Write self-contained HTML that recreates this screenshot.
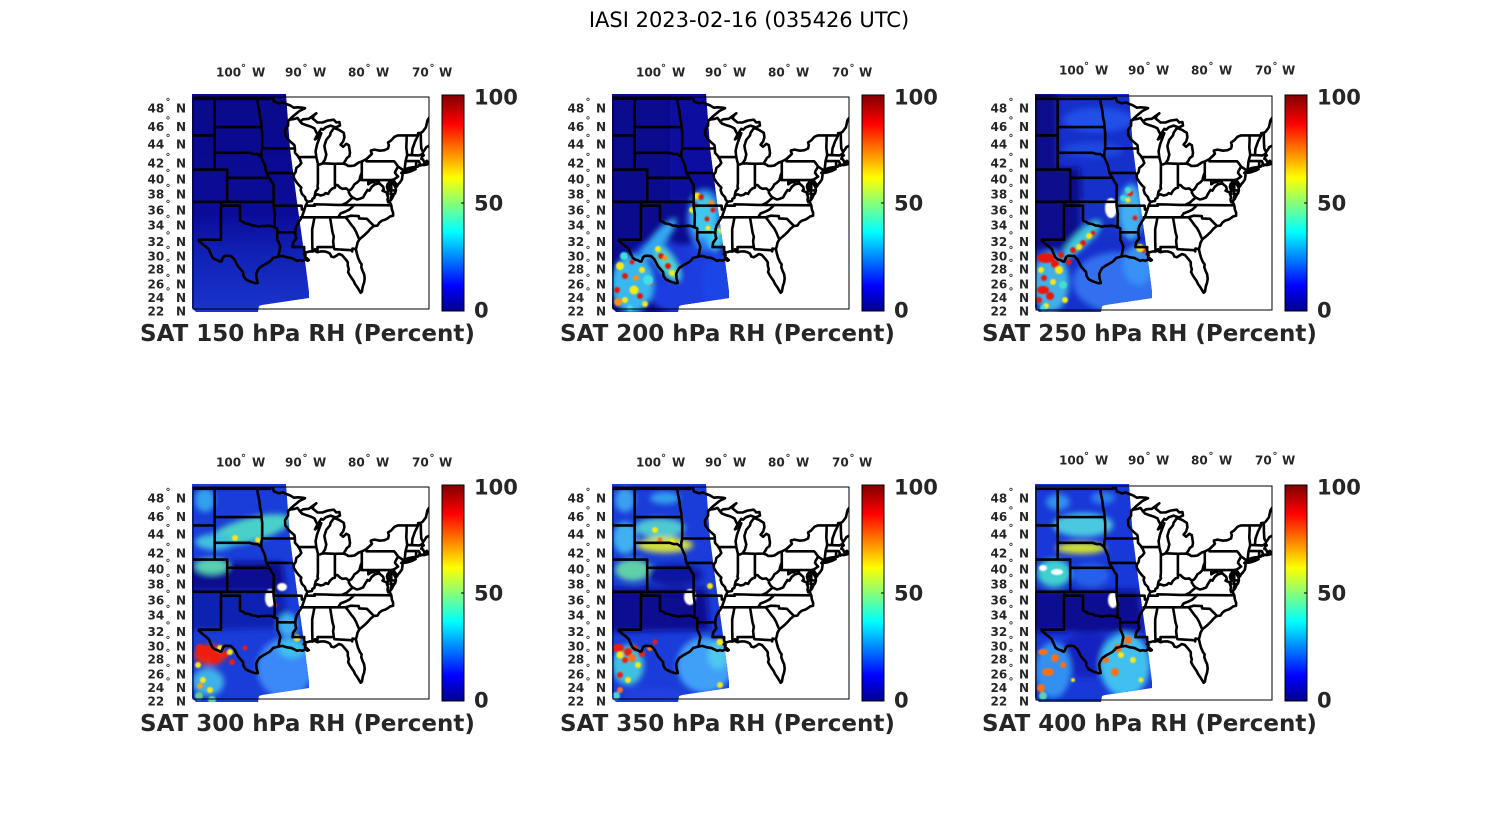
<!DOCTYPE html>
<html><head><meta charset="utf-8"><style>
html,body{margin:0;padding:0;background:#fff;}
svg{display:block;}
text{font-family:"DejaVu Sans","Liberation Sans",sans-serif;}
.t{font-weight:bold;font-size:12px;fill:#262626;}
.cb{font-weight:bold;font-size:21px;fill:#262626;}
.ti{font-weight:bold;font-size:23px;fill:#262626;}
</style></head><body>
<svg width="1500" height="825" viewBox="0 0 1500 825" xmlns="http://www.w3.org/2000/svg">
<defs>
<linearGradient id="jet" x1="0" y1="1" x2="0" y2="0">
<stop offset="0" stop-color="#00008f"/><stop offset="0.117" stop-color="#0000ff"/><stop offset="0.367" stop-color="#00ffff"/><stop offset="0.617" stop-color="#ffff00"/><stop offset="0.867" stop-color="#ff0000"/><stop offset="1" stop-color="#800000"/>
</linearGradient>
<linearGradient id="g1" gradientUnits="userSpaceOnUse" x1="0" y1="94" x2="0" y2="312">
<stop offset="0" stop-color="#0a0a8a"/><stop offset="0.55" stop-color="#0b0b98"/><stop offset="0.72" stop-color="#1020b4"/><stop offset="1" stop-color="#1a34cc"/>
</linearGradient>
<clipPath id="sw"><path d="M192,94 L286,94 L290,148 L297,202 L303,245 L309,292 L309,298 L262,305 L259,306 L258,312 L196,312 L192,308 Z"/></clipPath>
<clipPath id="bx"><rect x="193" y="97" width="236" height="212"/></clipPath>
<filter id="bl" x="-30%" y="-30%" width="160%" height="160%"><feGaussianBlur stdDeviation="3"/></filter>
<filter id="bs" x="-30%" y="-30%" width="160%" height="160%"><feGaussianBlur stdDeviation="0.8"/></filter>
<path id="mp" d="" fill="none" stroke="#000" stroke-width="2.6" stroke-linejoin="round" stroke-linecap="round"/>
</defs>

<text x="749" y="27" text-anchor="middle" font-size="21" fill="#000">IASI 2023-02-16 (035426 UTC)</text>

<!-- PANEL 1 -->
<g transform="translate(0,0)">
<g clip-path="url(#sw)"><rect x="188" y="90" width="125" height="225" fill="url(#g1)"/></g>
<g clip-path="url(#bx)"><use href="#mp"/></g>
<rect x="193" y="97" width="236" height="212" fill="none" stroke="#000" stroke-width="1"/>
<rect x="442" y="95" width="22" height="216" fill="url(#jet)" stroke="#000" stroke-width="1"/>
<line x1="461" y1="203" x2="464" y2="203" stroke="#000"/>
<text class="cb" x="474" y="104.5">100</text><text class="cb" x="474" y="210.5">50</text><text class="cb" x="474" y="317.5">0</text>
<text class="t" x="216" y="76.7">100<tspan x="241" dy="-5.5" font-size="10">°</tspan><tspan x="252" dy="5.5">W</tspan></text>
<text class="t" x="285" y="76.7">90<tspan x="302.5" dy="-5.5" font-size="10">°</tspan><tspan x="313" dy="5.5">W</tspan></text>
<text class="t" x="348" y="76.7">80<tspan x="365.5" dy="-5.5" font-size="10">°</tspan><tspan x="376" dy="5.5">W</tspan></text>
<text class="t" x="412" y="76.7">70<tspan x="429.5" dy="-5.5" font-size="10">°</tspan><tspan x="439" dy="5.5">W</tspan></text>
<text class="t" x="147.5" y="112.7">48<tspan x="165.5" dy="-7.5" font-size="10">°</tspan><tspan x="176" dy="7.5">N</tspan></text>
<text class="t" x="147.5" y="131.1">46<tspan x="165.5" dy="-7.5" font-size="10">°</tspan><tspan x="176" dy="7.5">N</tspan></text>
<text class="t" x="147.5" y="148.7">44<tspan x="165.5" dy="-7.5" font-size="10">°</tspan><tspan x="176" dy="7.5">N</tspan></text>
<text class="t" x="147.5" y="167.7">42<tspan x="165.5" dy="-7.5" font-size="10">°</tspan><tspan x="176" dy="7.5">N</tspan></text>
<text class="t" x="147.5" y="183.4">40<tspan x="165.5" dy="-7.5" font-size="10">°</tspan><tspan x="176" dy="7.5">N</tspan></text>
<text class="t" x="147.5" y="198.7">38<tspan x="165.5" dy="-7.5" font-size="10">°</tspan><tspan x="176" dy="7.5">N</tspan></text>
<text class="t" x="147.5" y="214.7">36<tspan x="165.5" dy="-7.5" font-size="10">°</tspan><tspan x="176" dy="7.5">N</tspan></text>
<text class="t" x="147.5" y="229.4">34<tspan x="165.5" dy="-7.5" font-size="10">°</tspan><tspan x="176" dy="7.5">N</tspan></text>
<text class="t" x="147.5" y="246.1">32<tspan x="165.5" dy="-7.5" font-size="10">°</tspan><tspan x="176" dy="7.5">N</tspan></text>
<text class="t" x="147.5" y="260.4">30<tspan x="165.5" dy="-7.5" font-size="10">°</tspan><tspan x="176" dy="7.5">N</tspan></text>
<text class="t" x="147.5" y="273.7">28<tspan x="165.5" dy="-7.5" font-size="10">°</tspan><tspan x="176" dy="7.5">N</tspan></text>
<text class="t" x="147.5" y="288.7">26<tspan x="165.5" dy="-7.5" font-size="10">°</tspan><tspan x="176" dy="7.5">N</tspan></text>
<text class="t" x="147.5" y="302.1">24<tspan x="165.5" dy="-7.5" font-size="10">°</tspan><tspan x="176" dy="7.5">N</tspan></text>
<text class="t" x="147.5" y="315.4">22<tspan x="176" dy="0">N</tspan></text>
<text class="ti" x="140" y="341">SAT 150 hPa RH (Percent)</text>
</g>

<!-- PANEL 2 -->
<g transform="translate(420,0)">
<g clip-path="url(#sw)">
<rect x="188" y="90" width="125" height="225" fill="#0b0b8e"/>
<g filter="url(#bl)">
<rect x="250" y="95" width="60" height="105" fill="#0c10a0"/>
<ellipse cx="270" cy="280" rx="48" ry="36" fill="#1a3ce0"/>
<ellipse cx="300" cy="282" rx="18" ry="30" fill="#1e44e8"/>
<ellipse cx="240" cy="262" rx="30" ry="22" fill="#1a38d8"/>
<ellipse cx="285" cy="220" rx="18" ry="30" fill="#2a78f0"/>
<ellipse cx="284" cy="216" rx="12" ry="22" fill="#40c8ec"/>
<ellipse cx="296" cy="238" rx="9" ry="12" fill="#40c8f0"/>
<ellipse cx="212" cy="284" rx="21" ry="29" fill="#38b8f0"/>
<ellipse cx="246" cy="262" rx="8" ry="22" transform="rotate(-35 246 262)" fill="#50d8d0"/>
<ellipse cx="238" cy="240" rx="7" ry="28" transform="rotate(40 238 240)" fill="#30a8f0"/>
</g>
<g filter="url(#bs)">
<g fill="#f8e818"><circle cx="277" cy="196" r="3.5"/><circle cx="272" cy="210" r="3"/><circle cx="299" cy="231" r="3"/><circle cx="200" cy="266" r="4"/><circle cx="214" cy="290" r="4.5"/><circle cx="225" cy="304" r="3"/><circle cx="238" cy="249" r="3"/><circle cx="252" cy="273" r="3"/><circle cx="205" cy="300" r="3"/><circle cx="222" cy="270" r="3"/><circle cx="288" cy="228" r="2.5"/></g>
<g fill="#e01808"><circle cx="281" cy="197" r="3"/><circle cx="287" cy="219" r="2.5"/><circle cx="275" cy="205" r="2.5"/><circle cx="205" cy="276" r="3"/><circle cx="220" cy="296" r="3"/><circle cx="212" cy="262" r="2.5"/><circle cx="241" cy="256" r="3"/><circle cx="248" cy="266" r="3"/><circle cx="197" cy="290" r="3"/><circle cx="230" cy="283" r="2.5"/><circle cx="293" cy="210" r="2.5"/></g>
<g fill="#f89018"><circle cx="291" cy="203" r="3"/><circle cx="198" cy="302" r="4"/><circle cx="245" cy="258" r="2.5"/><circle cx="216" cy="278" r="3"/></g>
<g fill="#40e0e0"><circle cx="228" cy="280" r="5"/><circle cx="296" cy="233" r="4"/><circle cx="204" cy="256" r="4"/><circle cx="210" cy="308" r="3"/></g>
</g>
</g>
<g clip-path="url(#bx)"><use href="#mp"/></g>
<rect x="193" y="97" width="236" height="212" fill="none" stroke="#000" stroke-width="1"/>
<rect x="442" y="95" width="22" height="216" fill="url(#jet)" stroke="#000" stroke-width="1"/>
<line x1="461" y1="203" x2="464" y2="203" stroke="#000"/>
<text class="cb" x="474" y="104.5">100</text><text class="cb" x="474" y="210.5">50</text><text class="cb" x="474" y="317.5">0</text>
<text class="t" x="216" y="76.7">100<tspan x="241" dy="-5.5" font-size="10">°</tspan><tspan x="252" dy="5.5">W</tspan></text>
<text class="t" x="285" y="76.7">90<tspan x="302.5" dy="-5.5" font-size="10">°</tspan><tspan x="313" dy="5.5">W</tspan></text>
<text class="t" x="348" y="76.7">80<tspan x="365.5" dy="-5.5" font-size="10">°</tspan><tspan x="376" dy="5.5">W</tspan></text>
<text class="t" x="412" y="76.7">70<tspan x="429.5" dy="-5.5" font-size="10">°</tspan><tspan x="439" dy="5.5">W</tspan></text>
<text class="t" x="147.5" y="112.7">48<tspan x="165.5" dy="-7.5" font-size="10">°</tspan><tspan x="176" dy="7.5">N</tspan></text>
<text class="t" x="147.5" y="131.1">46<tspan x="165.5" dy="-7.5" font-size="10">°</tspan><tspan x="176" dy="7.5">N</tspan></text>
<text class="t" x="147.5" y="148.7">44<tspan x="165.5" dy="-7.5" font-size="10">°</tspan><tspan x="176" dy="7.5">N</tspan></text>
<text class="t" x="147.5" y="167.7">42<tspan x="165.5" dy="-7.5" font-size="10">°</tspan><tspan x="176" dy="7.5">N</tspan></text>
<text class="t" x="147.5" y="183.4">40<tspan x="165.5" dy="-7.5" font-size="10">°</tspan><tspan x="176" dy="7.5">N</tspan></text>
<text class="t" x="147.5" y="198.7">38<tspan x="165.5" dy="-7.5" font-size="10">°</tspan><tspan x="176" dy="7.5">N</tspan></text>
<text class="t" x="147.5" y="214.7">36<tspan x="165.5" dy="-7.5" font-size="10">°</tspan><tspan x="176" dy="7.5">N</tspan></text>
<text class="t" x="147.5" y="229.4">34<tspan x="165.5" dy="-7.5" font-size="10">°</tspan><tspan x="176" dy="7.5">N</tspan></text>
<text class="t" x="147.5" y="246.1">32<tspan x="165.5" dy="-7.5" font-size="10">°</tspan><tspan x="176" dy="7.5">N</tspan></text>
<text class="t" x="147.5" y="260.4">30<tspan x="165.5" dy="-7.5" font-size="10">°</tspan><tspan x="176" dy="7.5">N</tspan></text>
<text class="t" x="147.5" y="273.7">28<tspan x="165.5" dy="-7.5" font-size="10">°</tspan><tspan x="176" dy="7.5">N</tspan></text>
<text class="t" x="147.5" y="288.7">26<tspan x="165.5" dy="-7.5" font-size="10">°</tspan><tspan x="176" dy="7.5">N</tspan></text>
<text class="t" x="147.5" y="302.1">24<tspan x="165.5" dy="-7.5" font-size="10">°</tspan><tspan x="176" dy="7.5">N</tspan></text>
<text class="t" x="147.5" y="315.4">22<tspan x="176" dy="0">N</tspan></text>
<text class="ti" x="140" y="341">SAT 200 hPa RH (Percent)</text>
</g>

<!-- PANEL 3 -->
<g transform="translate(843,0)">
<g clip-path="url(#sw)">
<rect x="188" y="90" width="125" height="225" fill="#1630cc"/>
<g filter="url(#bl)">
<polygon points="186,88 214,88 214,168 237,168 240,238 230,248 186,250" fill="#0a0a8e"/>
<ellipse cx="255" cy="120" rx="35" ry="12" fill="#2050e8"/>
<ellipse cx="250" cy="150" rx="30" ry="8" fill="#1c48e0"/>
<rect x="237" y="200" width="38" height="40" fill="#1430c8"/>
<ellipse cx="275" cy="282" rx="45" ry="30" fill="#3070f0"/>
<ellipse cx="295" cy="265" rx="15" ry="20" fill="#3890f8"/>
<ellipse cx="288" cy="212" rx="12" ry="28" fill="#40b0f0"/>
<ellipse cx="238" cy="240" rx="7" ry="26" transform="rotate(45 238 240)" fill="#40c8e0"/>
<ellipse cx="208" cy="282" rx="18" ry="30" fill="#40b0e8"/>
</g>
<g filter="url(#bs)">
<g fill="#e81810"><ellipse cx="203" cy="258" rx="9" ry="5"/><circle cx="212" cy="264" r="4"/><ellipse cx="200" cy="290" rx="6" ry="4"/><circle cx="207" cy="296" r="4"/><circle cx="196" cy="300" r="3"/><circle cx="230" cy="250" r="3"/><circle cx="240" cy="243" r="3"/><circle cx="250" cy="233" r="2.5"/><circle cx="287" cy="193" r="3"/><circle cx="292" cy="218" r="2.5"/><circle cx="300" cy="250" r="3"/><circle cx="226" cy="262" r="3"/><circle cx="218" cy="255" r="3"/><circle cx="201" cy="278" r="3"/></g>
<g fill="#f8e818"><circle cx="216" cy="270" r="4"/><circle cx="198" cy="270" r="3"/><circle cx="210" cy="282" r="3"/><circle cx="236" cy="247" r="3"/><circle cx="246" cy="236" r="3"/><circle cx="297" cy="248" r="4"/><circle cx="285" cy="200" r="2.5"/><circle cx="222" cy="300" r="3"/><circle cx="203" cy="306" r="3"/></g>
<g fill="#40e0d0"><circle cx="285" cy="190" r="3"/><circle cx="200" cy="308" r="3"/><circle cx="220" cy="285" r="4"/><circle cx="280" cy="198" r="3"/></g>
<ellipse cx="268" cy="208" rx="6" ry="10" fill="#fff"/>
</g>
</g>
<g clip-path="url(#bx)"><use href="#mp"/></g>
<rect x="193" y="96" width="236" height="214" fill="none" stroke="#000" stroke-width="1"/>
<rect x="442" y="95" width="22" height="216" fill="url(#jet)" stroke="#000" stroke-width="1"/>
<line x1="461" y1="203" x2="464" y2="203" stroke="#000"/>
<text class="cb" x="474" y="104.5">100</text><text class="cb" x="474" y="210.5">50</text><text class="cb" x="474" y="317.5">0</text>
<text class="t" x="216" y="74.7">100<tspan x="241" dy="-5.5" font-size="10">°</tspan><tspan x="252" dy="5.5">W</tspan></text>
<text class="t" x="285" y="74.7">90<tspan x="302.5" dy="-5.5" font-size="10">°</tspan><tspan x="313" dy="5.5">W</tspan></text>
<text class="t" x="348" y="74.7">80<tspan x="365.5" dy="-5.5" font-size="10">°</tspan><tspan x="376" dy="5.5">W</tspan></text>
<text class="t" x="412" y="74.7">70<tspan x="429.5" dy="-5.5" font-size="10">°</tspan><tspan x="439" dy="5.5">W</tspan></text>
<text class="t" x="147.5" y="112.7">48<tspan x="165.5" dy="-7.5" font-size="10">°</tspan><tspan x="176" dy="7.5">N</tspan></text>
<text class="t" x="147.5" y="131.1">46<tspan x="165.5" dy="-7.5" font-size="10">°</tspan><tspan x="176" dy="7.5">N</tspan></text>
<text class="t" x="147.5" y="148.7">44<tspan x="165.5" dy="-7.5" font-size="10">°</tspan><tspan x="176" dy="7.5">N</tspan></text>
<text class="t" x="147.5" y="167.7">42<tspan x="165.5" dy="-7.5" font-size="10">°</tspan><tspan x="176" dy="7.5">N</tspan></text>
<text class="t" x="147.5" y="183.4">40<tspan x="165.5" dy="-7.5" font-size="10">°</tspan><tspan x="176" dy="7.5">N</tspan></text>
<text class="t" x="147.5" y="198.7">38<tspan x="165.5" dy="-7.5" font-size="10">°</tspan><tspan x="176" dy="7.5">N</tspan></text>
<text class="t" x="147.5" y="214.7">36<tspan x="165.5" dy="-7.5" font-size="10">°</tspan><tspan x="176" dy="7.5">N</tspan></text>
<text class="t" x="147.5" y="229.4">34<tspan x="165.5" dy="-7.5" font-size="10">°</tspan><tspan x="176" dy="7.5">N</tspan></text>
<text class="t" x="147.5" y="246.1">32<tspan x="165.5" dy="-7.5" font-size="10">°</tspan><tspan x="176" dy="7.5">N</tspan></text>
<text class="t" x="147.5" y="260.4">30<tspan x="165.5" dy="-7.5" font-size="10">°</tspan><tspan x="176" dy="7.5">N</tspan></text>
<text class="t" x="147.5" y="273.7">28<tspan x="165.5" dy="-7.5" font-size="10">°</tspan><tspan x="176" dy="7.5">N</tspan></text>
<text class="t" x="147.5" y="288.7">26<tspan x="165.5" dy="-7.5" font-size="10">°</tspan><tspan x="176" dy="7.5">N</tspan></text>
<text class="t" x="147.5" y="302.1">24<tspan x="165.5" dy="-7.5" font-size="10">°</tspan><tspan x="176" dy="7.5">N</tspan></text>
<text class="t" x="147.5" y="315.4">22<tspan x="176" dy="0">N</tspan></text>
<text class="ti" x="139" y="341">SAT 250 hPa RH (Percent)</text>
</g>

<!-- PANEL 4 -->
<g transform="translate(0,390)">
<g clip-path="url(#sw)">
<rect x="188" y="90" width="125" height="225" fill="#1a3cd8"/>
<g filter="url(#bl)">
<polygon points="186,172 282,172 286,200 186,200" fill="#0c0c92"/>
<polygon points="186,200 284,200 288,238 186,240" fill="#1020b0"/>
<ellipse cx="205" cy="110" rx="10" ry="12" fill="#30a0f0"/>
<ellipse cx="250" cy="140" rx="42" ry="12" transform="rotate(-15 250 140)" fill="#48d0c8"/>
<ellipse cx="215" cy="152" rx="20" ry="8" fill="#40c0e0"/>
<ellipse cx="212" cy="176" rx="17" ry="8" fill="#58d0b0"/>
<ellipse cx="288" cy="235" rx="10" ry="12" fill="#40b0f0"/>
<ellipse cx="285" cy="278" rx="28" ry="30" fill="#3a88f8"/>
<ellipse cx="292" cy="258" rx="14" ry="10" fill="#40c0f0"/>
<ellipse cx="210" cy="265" rx="16" ry="10" fill="#f02a10"/>
<ellipse cx="208" cy="292" rx="16" ry="14" fill="#40b0e8"/>
</g>
<g filter="url(#bs)">
<g fill="#f01c10"><ellipse cx="205" cy="262" rx="8" ry="6"/><circle cx="215" cy="268" r="5"/><circle cx="200" cy="258" r="4"/><circle cx="225" cy="265" r="3"/><circle cx="232" cy="272" r="3"/><circle cx="275" cy="215" r="2"/><circle cx="245" cy="258" r="2.5"/></g>
<g fill="#f8e818"><circle cx="220" cy="258" r="3"/><circle cx="198" cy="275" r="3"/><circle cx="230" cy="262" r="3"/><circle cx="203" cy="290" r="3"/><circle cx="210" cy="300" r="3"/><circle cx="297" cy="248" r="3.5"/><circle cx="235" cy="148" r="3"/><circle cx="258" cy="150" r="3"/><circle cx="290" cy="125" r="3"/></g>
<circle cx="199" cy="306" r="4" fill="#60d080"/><circle cx="212" cy="310" r="4" fill="#60d0a0"/><circle cx="200" cy="296" r="3" fill="#f0a020"/>
<ellipse cx="270" cy="208" rx="5" ry="9" fill="#fff"/><ellipse cx="282" cy="197" rx="5" ry="4" fill="#fff"/>
</g>
</g>
<g clip-path="url(#bx)"><use href="#mp"/></g>
<rect x="193" y="97" width="236" height="212" fill="none" stroke="#000" stroke-width="1"/>
<rect x="442" y="95" width="22" height="216" fill="url(#jet)" stroke="#000" stroke-width="1"/>
<line x1="461" y1="203" x2="464" y2="203" stroke="#000"/>
<text class="cb" x="474" y="104.5">100</text><text class="cb" x="474" y="210.5">50</text><text class="cb" x="474" y="317.5">0</text>
<text class="t" x="216" y="76.7">100<tspan x="241" dy="-5.5" font-size="10">°</tspan><tspan x="252" dy="5.5">W</tspan></text>
<text class="t" x="285" y="76.7">90<tspan x="302.5" dy="-5.5" font-size="10">°</tspan><tspan x="313" dy="5.5">W</tspan></text>
<text class="t" x="348" y="76.7">80<tspan x="365.5" dy="-5.5" font-size="10">°</tspan><tspan x="376" dy="5.5">W</tspan></text>
<text class="t" x="412" y="76.7">70<tspan x="429.5" dy="-5.5" font-size="10">°</tspan><tspan x="439" dy="5.5">W</tspan></text>
<text class="t" x="147.5" y="112.7">48<tspan x="165.5" dy="-7.5" font-size="10">°</tspan><tspan x="176" dy="7.5">N</tspan></text>
<text class="t" x="147.5" y="131.1">46<tspan x="165.5" dy="-7.5" font-size="10">°</tspan><tspan x="176" dy="7.5">N</tspan></text>
<text class="t" x="147.5" y="148.7">44<tspan x="165.5" dy="-7.5" font-size="10">°</tspan><tspan x="176" dy="7.5">N</tspan></text>
<text class="t" x="147.5" y="167.7">42<tspan x="165.5" dy="-7.5" font-size="10">°</tspan><tspan x="176" dy="7.5">N</tspan></text>
<text class="t" x="147.5" y="183.4">40<tspan x="165.5" dy="-7.5" font-size="10">°</tspan><tspan x="176" dy="7.5">N</tspan></text>
<text class="t" x="147.5" y="198.7">38<tspan x="165.5" dy="-7.5" font-size="10">°</tspan><tspan x="176" dy="7.5">N</tspan></text>
<text class="t" x="147.5" y="214.7">36<tspan x="165.5" dy="-7.5" font-size="10">°</tspan><tspan x="176" dy="7.5">N</tspan></text>
<text class="t" x="147.5" y="229.4">34<tspan x="165.5" dy="-7.5" font-size="10">°</tspan><tspan x="176" dy="7.5">N</tspan></text>
<text class="t" x="147.5" y="246.1">32<tspan x="165.5" dy="-7.5" font-size="10">°</tspan><tspan x="176" dy="7.5">N</tspan></text>
<text class="t" x="147.5" y="260.4">30<tspan x="165.5" dy="-7.5" font-size="10">°</tspan><tspan x="176" dy="7.5">N</tspan></text>
<text class="t" x="147.5" y="273.7">28<tspan x="165.5" dy="-7.5" font-size="10">°</tspan><tspan x="176" dy="7.5">N</tspan></text>
<text class="t" x="147.5" y="288.7">26<tspan x="165.5" dy="-7.5" font-size="10">°</tspan><tspan x="176" dy="7.5">N</tspan></text>
<text class="t" x="147.5" y="302.1">24<tspan x="165.5" dy="-7.5" font-size="10">°</tspan><tspan x="176" dy="7.5">N</tspan></text>
<text class="t" x="147.5" y="315.4">22<tspan x="176" dy="0">N</tspan></text>
<text class="ti" x="140" y="341">SAT 300 hPa RH (Percent)</text>
</g>

<!-- PANEL 5 -->
<g transform="translate(420,390)">
<g clip-path="url(#sw)">
<rect x="188" y="90" width="125" height="225" fill="#1a3cd8"/>
<g filter="url(#bl)">
<ellipse cx="205" cy="110" rx="10" ry="12" fill="#3aa0f0"/>
<ellipse cx="245" cy="108" rx="15" ry="6" fill="#30a0f0"/>
<ellipse cx="240" cy="138" rx="25" ry="10" fill="#50c8d0"/>
<ellipse cx="245" cy="155" rx="28" ry="8" fill="#d0e040"/>
<ellipse cx="205" cy="148" rx="12" ry="16" fill="#40b0f0"/>
<ellipse cx="213" cy="180" rx="18" ry="11" fill="#60d0a8"/>
<ellipse cx="255" cy="185" rx="28" ry="11" fill="#0c12a0"/>
<polygon points="186,198 286,198 290,240 186,242" fill="#0a0a92"/>
<ellipse cx="208" cy="275" rx="16" ry="20" fill="#40c0e0"/>
<ellipse cx="285" cy="275" rx="28" ry="28" fill="#40a0f8"/>
<ellipse cx="298" cy="265" rx="10" ry="14" fill="#50c8f0"/>
<ellipse cx="235" cy="305" rx="30" ry="8" fill="#2040e0"/>
</g>
<g filter="url(#bs)">
<g fill="#f01c10"><ellipse cx="198" cy="258" rx="6" ry="4"/><circle cx="208" cy="262" r="4"/><circle cx="215" cy="258" r="3"/><circle cx="205" cy="270" r="3"/><circle cx="222" cy="264" r="3"/><circle cx="200" cy="285" r="3"/><circle cx="235" cy="252" r="2.5"/></g>
<g fill="#f87020"><circle cx="212" cy="268" r="4"/><circle cx="200" cy="300" r="3"/><circle cx="230" cy="258" r="3"/><circle cx="240" cy="150" r="2.5"/></g>
<g fill="#f8e818"><circle cx="200" cy="265" r="3.5"/><circle cx="218" cy="275" r="3"/><circle cx="208" cy="290" r="3"/><circle cx="300" cy="252" r="3.5"/><circle cx="235" cy="140" r="3"/><circle cx="252" cy="152" r="3"/><circle cx="290" cy="196" r="3"/><circle cx="300" cy="295" r="3"/></g>
<ellipse cx="270" cy="207" rx="6" ry="8" fill="#fff"/>
<circle cx="196" cy="306" r="4" fill="#50d0e0"/>
</g>
</g>
<g clip-path="url(#bx)"><use href="#mp"/></g>
<rect x="193" y="97" width="236" height="212" fill="none" stroke="#000" stroke-width="1"/>
<rect x="442" y="95" width="22" height="216" fill="url(#jet)" stroke="#000" stroke-width="1"/>
<line x1="461" y1="203" x2="464" y2="203" stroke="#000"/>
<text class="cb" x="474" y="104.5">100</text><text class="cb" x="474" y="210.5">50</text><text class="cb" x="474" y="317.5">0</text>
<text class="t" x="216" y="76.7">100<tspan x="241" dy="-5.5" font-size="10">°</tspan><tspan x="252" dy="5.5">W</tspan></text>
<text class="t" x="285" y="76.7">90<tspan x="302.5" dy="-5.5" font-size="10">°</tspan><tspan x="313" dy="5.5">W</tspan></text>
<text class="t" x="348" y="76.7">80<tspan x="365.5" dy="-5.5" font-size="10">°</tspan><tspan x="376" dy="5.5">W</tspan></text>
<text class="t" x="412" y="76.7">70<tspan x="429.5" dy="-5.5" font-size="10">°</tspan><tspan x="439" dy="5.5">W</tspan></text>
<text class="t" x="147.5" y="112.7">48<tspan x="165.5" dy="-7.5" font-size="10">°</tspan><tspan x="176" dy="7.5">N</tspan></text>
<text class="t" x="147.5" y="131.1">46<tspan x="165.5" dy="-7.5" font-size="10">°</tspan><tspan x="176" dy="7.5">N</tspan></text>
<text class="t" x="147.5" y="148.7">44<tspan x="165.5" dy="-7.5" font-size="10">°</tspan><tspan x="176" dy="7.5">N</tspan></text>
<text class="t" x="147.5" y="167.7">42<tspan x="165.5" dy="-7.5" font-size="10">°</tspan><tspan x="176" dy="7.5">N</tspan></text>
<text class="t" x="147.5" y="183.4">40<tspan x="165.5" dy="-7.5" font-size="10">°</tspan><tspan x="176" dy="7.5">N</tspan></text>
<text class="t" x="147.5" y="198.7">38<tspan x="165.5" dy="-7.5" font-size="10">°</tspan><tspan x="176" dy="7.5">N</tspan></text>
<text class="t" x="147.5" y="214.7">36<tspan x="165.5" dy="-7.5" font-size="10">°</tspan><tspan x="176" dy="7.5">N</tspan></text>
<text class="t" x="147.5" y="229.4">34<tspan x="165.5" dy="-7.5" font-size="10">°</tspan><tspan x="176" dy="7.5">N</tspan></text>
<text class="t" x="147.5" y="246.1">32<tspan x="165.5" dy="-7.5" font-size="10">°</tspan><tspan x="176" dy="7.5">N</tspan></text>
<text class="t" x="147.5" y="260.4">30<tspan x="165.5" dy="-7.5" font-size="10">°</tspan><tspan x="176" dy="7.5">N</tspan></text>
<text class="t" x="147.5" y="273.7">28<tspan x="165.5" dy="-7.5" font-size="10">°</tspan><tspan x="176" dy="7.5">N</tspan></text>
<text class="t" x="147.5" y="288.7">26<tspan x="165.5" dy="-7.5" font-size="10">°</tspan><tspan x="176" dy="7.5">N</tspan></text>
<text class="t" x="147.5" y="302.1">24<tspan x="165.5" dy="-7.5" font-size="10">°</tspan><tspan x="176" dy="7.5">N</tspan></text>
<text class="t" x="147.5" y="315.4">22<tspan x="176" dy="0">N</tspan></text>
<text class="ti" x="140" y="341">SAT 350 hPa RH (Percent)</text>
</g>

<!-- PANEL 6 -->
<g transform="translate(843,390)">
<g clip-path="url(#sw)">
<rect x="188" y="90" width="125" height="225" fill="#1838d8"/>
<g filter="url(#bl)">
<ellipse cx="215" cy="112" rx="12" ry="8" fill="#3090f0"/>
<ellipse cx="260" cy="108" rx="12" ry="6" fill="#2c80f0"/>
<ellipse cx="240" cy="135" rx="30" ry="12" fill="#48c8e0"/>
<ellipse cx="238" cy="158" rx="25" ry="6" fill="#d0e030"/>
<ellipse cx="211" cy="183" rx="17" ry="14" fill="#40d0d0"/>
<ellipse cx="248" cy="185" rx="18" ry="12" fill="#2860e8"/>
<polygon points="186,200 296,200 300,242 186,242" fill="#0a0a92"/>
<ellipse cx="245" cy="265" rx="30" ry="22" fill="#1424c0"/>
<ellipse cx="210" cy="280" rx="18" ry="28" fill="#3090f0"/>
<ellipse cx="282" cy="275" rx="25" ry="32" fill="#40c0f0"/>
</g>
<g filter="url(#bs)">
<g fill="#f87018"><ellipse cx="200" cy="262" rx="5" ry="3"/><circle cx="212" cy="268" r="4"/><ellipse cx="205" cy="282" rx="6" ry="4"/><circle cx="198" cy="298" r="4"/><circle cx="220" cy="275" r="3"/><circle cx="275" cy="258" r="4"/><circle cx="272" cy="282" r="4"/><circle cx="285" cy="250" r="4"/><circle cx="263" cy="270" r="3"/></g>
<g fill="#f8e818"><circle cx="278" cy="265" r="3"/><circle cx="290" cy="270" r="3"/><circle cx="298" cy="290" r="2.5"/><circle cx="230" cy="290" r="2"/></g>
<ellipse cx="214" cy="182" rx="6" ry="3" fill="#fff"/><ellipse cx="270" cy="210" rx="5" ry="8" fill="#fff"/><ellipse cx="200" cy="178" rx="4" ry="3" fill="#fff"/>
<circle cx="200" cy="306" r="4" fill="#60d0b0"/>
</g>
</g>
<g clip-path="url(#bx)"><use href="#mp"/></g>
<rect x="193" y="96" width="236" height="214" fill="none" stroke="#000" stroke-width="1"/>
<rect x="442" y="95" width="22" height="216" fill="url(#jet)" stroke="#000" stroke-width="1"/>
<line x1="461" y1="203" x2="464" y2="203" stroke="#000"/>
<text class="cb" x="474" y="104.5">100</text><text class="cb" x="474" y="210.5">50</text><text class="cb" x="474" y="317.5">0</text>
<text class="t" x="216" y="74.7">100<tspan x="241" dy="-5.5" font-size="10">°</tspan><tspan x="252" dy="5.5">W</tspan></text>
<text class="t" x="285" y="74.7">90<tspan x="302.5" dy="-5.5" font-size="10">°</tspan><tspan x="313" dy="5.5">W</tspan></text>
<text class="t" x="348" y="74.7">80<tspan x="365.5" dy="-5.5" font-size="10">°</tspan><tspan x="376" dy="5.5">W</tspan></text>
<text class="t" x="412" y="74.7">70<tspan x="429.5" dy="-5.5" font-size="10">°</tspan><tspan x="439" dy="5.5">W</tspan></text>
<text class="t" x="147.5" y="112.7">48<tspan x="165.5" dy="-7.5" font-size="10">°</tspan><tspan x="176" dy="7.5">N</tspan></text>
<text class="t" x="147.5" y="131.1">46<tspan x="165.5" dy="-7.5" font-size="10">°</tspan><tspan x="176" dy="7.5">N</tspan></text>
<text class="t" x="147.5" y="148.7">44<tspan x="165.5" dy="-7.5" font-size="10">°</tspan><tspan x="176" dy="7.5">N</tspan></text>
<text class="t" x="147.5" y="167.7">42<tspan x="165.5" dy="-7.5" font-size="10">°</tspan><tspan x="176" dy="7.5">N</tspan></text>
<text class="t" x="147.5" y="183.4">40<tspan x="165.5" dy="-7.5" font-size="10">°</tspan><tspan x="176" dy="7.5">N</tspan></text>
<text class="t" x="147.5" y="198.7">38<tspan x="165.5" dy="-7.5" font-size="10">°</tspan><tspan x="176" dy="7.5">N</tspan></text>
<text class="t" x="147.5" y="214.7">36<tspan x="165.5" dy="-7.5" font-size="10">°</tspan><tspan x="176" dy="7.5">N</tspan></text>
<text class="t" x="147.5" y="229.4">34<tspan x="165.5" dy="-7.5" font-size="10">°</tspan><tspan x="176" dy="7.5">N</tspan></text>
<text class="t" x="147.5" y="246.1">32<tspan x="165.5" dy="-7.5" font-size="10">°</tspan><tspan x="176" dy="7.5">N</tspan></text>
<text class="t" x="147.5" y="260.4">30<tspan x="165.5" dy="-7.5" font-size="10">°</tspan><tspan x="176" dy="7.5">N</tspan></text>
<text class="t" x="147.5" y="273.7">28<tspan x="165.5" dy="-7.5" font-size="10">°</tspan><tspan x="176" dy="7.5">N</tspan></text>
<text class="t" x="147.5" y="288.7">26<tspan x="165.5" dy="-7.5" font-size="10">°</tspan><tspan x="176" dy="7.5">N</tspan></text>
<text class="t" x="147.5" y="302.1">24<tspan x="165.5" dy="-7.5" font-size="10">°</tspan><tspan x="176" dy="7.5">N</tspan></text>
<text class="t" x="147.5" y="315.4">22<tspan x="176" dy="0">N</tspan></text>
<text class="ti" x="139" y="341">SAT 400 hPa RH (Percent)</text>
</g>
</svg>
<script>
(function(){
var L=[
[-108,49,-95.15,49,-95.15,49.38,-94.8,49.3,-94.6,48.72,-93.8,48.52,-93.1,48.62,-92.6,48.45,-92.0,48.3,-91.4,48.05,-90.8,48.1,-90.0,48.05,-89.6,48.0,-90.5,47.7,-91.4,47.2,-92.1,46.75,-91.2,46.85,-90.8,46.95,-90.4,46.57],
[-90.4,46.57,-89.9,46.8,-89.0,46.85,-88.4,47.15,-87.8,47.45,-88.2,47.2,-88.4,46.9,-87.6,46.45,-86.8,46.45,-86.0,46.65,-85.0,46.75,-84.6,46.45,-84.1,46.5,-84.0,46.1,-84.7,45.9,-85.5,46.1,-86.3,45.9,-86.7,45.65,-87.0,45.75,-87.6,45.1,-87.8,45.35,-88.1,45.8,-88.7,46.0,-89.6,46.2,-90.1,46.34,-90.4,46.57],
[-87.6,45.1,-88.0,44.55,-87.5,44.8,-87.0,45.25,-87.5,44.3,-87.7,43.9,-87.9,43.2,-87.8,42.5,-87.6,41.9,-87.5,41.65,-87.2,41.62,-86.8,41.76],
[-86.8,41.76,-86.4,42.2,-86.2,42.8,-86.4,43.4,-86.5,43.8,-86.2,44.5,-85.6,45.0,-85.5,45.3,-85.0,45.8,-84.7,45.78,-84.1,45.6,-83.4,45.3,-83.3,44.8,-83.5,44.3,-83.9,43.95,-83.5,43.7,-83.0,44.05,-82.6,43.9,-82.4,43.0,-82.5,42.6,-82.9,42.4,-83.1,42.1,-83.45,41.73],
[-83.45,41.73,-83.0,41.6,-82.7,41.45,-82.2,41.45,-81.7,41.5,-81.0,41.85,-80.52,41.98,-79.76,42.27,-79.0,42.8,-78.9,42.9,-79.05,43.15,-79.05,43.27,-78.5,43.37,-77.6,43.25,-76.9,43.3,-76.3,43.5,-76.2,43.9,-76.3,44.2,-75.8,44.45,-75.3,44.85,-74.7,45.0,-71.5,45.0,-71.5,45.25,-71.08,45.3,-70.8,45.4,-70.25,45.9,-70.0,46.7,-69.25,47.45,-68.3,47.35,-67.8,47.07,-67.8,45.7],
[-97.15,25.95,-97.35,26.6,-97.4,27.2,-97.2,27.7,-96.9,28.1,-96.4,28.4,-95.9,28.65,-95.3,28.95,-94.9,29.3,-94.7,29.5,-94.5,29.55,-93.84,29.7,-93.2,29.78,-92.6,29.6,-92.2,29.55,-91.8,29.5,-91.3,29.3,-90.9,29.1,-90.4,29.2,-90.0,29.1,-89.6,29.3,-89.2,29.1,-89.0,29.2,-89.3,29.45,-89.6,29.6,-89.5,29.9,-89.8,30.0,-89.6,30.2,-89.3,30.3,-88.8,30.4,-88.4,30.38,-88.1,30.5,-88.0,30.7,-87.9,30.4,-87.6,30.3,-87.0,30.4,-86.5,30.4,-86.0,30.3,-85.6,30.1,-85.4,29.7,-85.0,29.6,-84.6,29.8,-84.2,30.05,-83.7,29.9,-83.4,29.6,-83.0,29.2,-82.75,28.9,-82.75,28.4,-82.6,27.9,-82.7,27.5,-82.4,27.0,-82.1,26.6,-81.8,26.2,-81.6,25.8,-81.2,25.3,-80.95,24.9,-80.7,24.55,-80.5,24.7,-80.4,25.2,-80.3,25.6,-80.15,26.0,-80.05,26.6,-80.15,27.2,-80.4,27.7,-80.6,28.2,-80.55,28.6,-80.8,28.9,-81.1,29.5,-81.3,30.1,-81.45,30.7,-81.3,31.2,-81.2,31.6,-80.9,32.05,-80.5,32.35,-80.0,32.7,-79.5,33.1,-79.1,33.5,-78.6,33.85,-78.0,33.9,-77.7,34.3,-77.3,34.55,-76.7,34.7,-76.3,34.9,-76.0,35.1,-75.5,35.2,-75.5,35.6,-75.7,36.0,-75.8,36.55,-76.0,36.9,-76.3,36.95,-76.4,37.3,-76.3,37.6,-76.5,38.0,-76.3,38.4,-76.5,38.9,-76.4,39.2,-76.1,39.5,-75.9,39.45,-76.1,39.0,-76.0,38.5,-75.9,38.2,-75.7,37.9,-75.9,37.3,-76.0,37.1,-75.7,37.4,-75.4,37.9,-75.2,38.05,-75.05,38.45,-75.1,38.8,-75.4,39.2,-75.55,39.6,-75.5,39.75,-75.3,39.55,-75.0,39.2,-74.9,38.93,-74.7,39.2,-74.4,39.45,-74.1,39.8,-74.0,40.3,-74.0,40.5,-74.2,40.6,-74.0,40.7,-73.9,40.6,-73.3,40.65,-72.5,40.85,-71.9,41.07,-72.3,41.0,-73.1,40.95,-73.7,40.85,-73.66,41.0,-73.0,41.2,-72.4,41.28,-71.85,41.32,-71.5,41.38,-71.3,41.6,-71.15,41.5,-70.8,41.6,-70.6,41.55,-70.0,41.65,-69.95,41.9,-70.1,42.05,-70.5,41.85,-70.7,42.2,-71.0,42.3,-70.8,42.6,-70.6,42.7,-70.8,42.87,-70.7,43.1,-70.4,43.4,-70.2,43.65,-69.8,43.8,-69.3,43.9],
[-97.15,25.95,-97.5,25.9,-98.2,26.1,-98.7,26.3,-99.1,26.5,-99.45,27.0,-99.5,27.5,-100.0,28.0,-100.3,28.3,-100.6,28.8,-100.9,29.3,-101.4,29.75,-102.0,29.8,-102.4,29.8,-102.7,29.6,-103.0,29.0,-103.15,28.97,-103.5,29.15,-104.0,29.3,-104.4,29.55,-104.6,29.9,-104.8,30.3,-105.0,30.7,-105.5,31.1,-106.0,31.4,-106.4,31.75,-106.6,31.85,-106.6,32.0,-103.06,32.0,-103.04,36.5,-100.0,36.5,-100.0,34.56,-99.5,34.4,-99.2,34.2,-98.5,34.1,-98.0,33.9,-97.5,33.88,-97.0,33.75,-96.6,33.85,-96.0,33.85,-95.5,33.88,-95.0,33.85,-94.48,33.64,-94.04,33.55,-94.04,32.0,-93.9,31.8,-93.7,31.4,-93.55,31.0,-93.7,30.4,-93.84,29.7],
[-108,37,-94.62,37],[-103.0,37,-103.0,36.5],
[-94.62,37,-94.62,36.5,-94.43,35.4,-94.48,33.64],
[-94.62,36.5,-90.15,36.5,-90.1,36.0,-89.7,36.0],
[-94.04,33.02,-91.16,33.0],
[-91.6,31.0,-89.73,31.0,-89.75,30.6,-89.6,30.2],
[-91.22,43.5,-91.2,43.0,-90.7,42.6,-90.4,42.2,-90.2,41.8,-90.5,41.5,-91.0,41.2,-91.1,40.7,-91.4,40.4,-91.4,40.0,-91.0,39.5,-90.6,39.1,-90.2,38.8,-90.3,38.5,-90.1,38.0,-89.6,37.6,-89.5,37.3,-89.2,37.0,-89.5,36.5,-89.7,36.0,-89.9,35.5,-90.1,35.0,-90.6,34.4,-91.0,33.8,-91.1,33.4,-91.16,33.0,-91.1,32.5,-91.0,32.2,-91.5,31.6,-91.6,31.0],
[-102.05,40,-95.3,40,-94.95,39.5,-94.6,39.1,-94.62,37],
[-104.05,41,-102.05,41,-102.05,37],
[-108,41,-104.05,41],[-104.05,49,-104.05,41],[-108,45,-104.05,45],
[-104.05,45.94,-96.56,45.94],
[-104.05,43,-98.5,43,-97.8,42.85,-97.2,42.85,-96.6,42.5,-96.3,42.0,-96.0,41.5,-95.9,41.0,-95.77,40.6,-95.3,40.0],
[-97.23,49,-97.15,48.5,-96.9,47.7,-96.8,47.0,-96.6,46.4,-96.56,45.94,-96.45,45.3,-96.45,43.5,-96.6,43.0,-96.6,42.5],
[-96.45,43.5,-91.22,43.5],
[-92.1,46.7,-92.3,46.65,-92.3,46.1,-92.8,45.6,-92.75,45.0,-92.3,44.55,-91.8,44.2,-91.3,43.9,-91.22,43.5],
[-95.77,40.6,-91.7,40.6,-91.4,40.4],
[-90.65,42.5,-87.8,42.5],
[-87.53,41.76,-87.53,39.35,-87.6,38.9,-87.5,38.7,-87.9,38.3,-88.05,37.8],
[-89.2,37.0,-88.5,37.1,-88.4,37.4,-88.1,37.5,-88.05,37.8,-87.6,37.95,-87.1,37.8,-86.6,37.9,-86.3,38.1,-85.9,38.0,-85.6,38.4,-85.2,38.7,-84.8,38.8,-84.8,39.1,-84.4,39.1,-84.0,38.8,-83.6,38.65,-83.0,38.7,-82.6,38.4,-82.2,38.6,-81.9,38.9,-81.7,39.2,-81.3,39.4,-80.9,39.7,-80.8,40.0,-80.65,40.4,-80.52,40.64,-80.52,41.98],
[-84.82,41.7,-84.82,39.1],
[-86.8,41.76,-84.82,41.7,-83.45,41.73],
[-89.5,36.5,-88.05,36.5,-88.1,36.68,-86.5,36.65,-84.5,36.6,-83.68,36.6,-75.8,36.55],
[-90.3,35.0,-83.1,35.0],
[-88.2,35.0,-88.1,34.9,-88.45,33.4,-88.45,31.9,-88.4,30.4],
[-85.6,35.0,-85.2,33.0,-85.0,32.4,-85.1,31.8,-85.0,31.0],
[-87.6,30.3,-87.6,31.0,-85.0,31.0,-84.9,30.7,-82.2,30.57,-82.05,30.4,-82.0,30.8,-81.45,30.7],
[-83.1,35.0,-82.8,34.7,-82.2,34.0,-81.8,33.6,-81.4,33.0,-81.1,32.4,-80.9,32.05],
[-83.1,35.0,-82.3,35.2,-81.0,35.15,-80.95,34.85,-79.7,34.8,-78.6,33.87],
[-84.3,35.0,-83.9,35.5,-83.1,35.75,-82.5,36.0,-81.7,36.6],
[-83.68,36.6,-83.0,36.85,-82.4,37.25,-81.97,37.54,-82.3,37.8,-82.6,38.17,-82.6,38.4],
[-81.97,37.54,-81.3,37.3,-80.8,37.4,-80.3,37.55,-80.0,38.0,-79.6,38.5,-79.3,38.4,-78.9,38.9,-78.4,39.2,-77.8,39.3],
[-79.48,39.72,-79.48,39.2,-79.0,39.45,-78.5,39.5,-78.3,39.62,-77.8,39.5,-77.7,39.3,-77.4,39.1,-77.1,38.9,-77.0,38.6,-77.2,38.4,-76.6,38.2,-76.3,38.0],
[-80.52,40.64,-80.52,39.72,-75.8,39.72,-75.45,39.8],
[-75.8,39.72,-75.79,38.45,-75.05,38.45],
[-75.9,37.95,-75.25,38.03],
[-79.76,42.27,-79.76,42.0,-75.35,42.0,-75.1,41.8,-74.7,41.36,-75.1,40.85,-75.2,40.6,-74.9,40.3,-74.7,40.15,-75.1,39.95,-75.5,39.75],
[-74.7,41.36,-74.0,41.0,-73.9,40.8],
[-73.35,45.0,-73.35,44.5,-73.4,43.6,-73.25,42.75,-73.5,42.05,-73.66,41.0],
[-72.5,42.73,-72.4,43.5,-72.0,44.3,-71.5,45.0],
[-73.25,42.75,-71.3,42.7,-70.8,42.87],
[-70.7,43.1,-71.0,43.5,-71.05,44.3,-71.08,45.3],
[-73.5,42.05,-71.8,42.02,-71.38,42.02,-71.2,41.7,-71.1,41.5],
[-71.8,42.02,-71.85,41.32]
];
function X(o){return 215+(o+104)*6.25;}
function Y(a){var r=a*Math.PI/180;return 310-(Math.log(Math.tan(Math.PI/4+r/2))-0.39377)*358;}
var d='';
for(var k=0;k<L.length;k++){var p=L[k];for(var i=0;i<p.length;i+=2){d+=(i?'L':'M')+X(p[i]).toFixed(1)+','+Y(p[i+1]).toFixed(1);}}
document.getElementById('mp').setAttribute('d',d);
})();
</script>
</body></html>
